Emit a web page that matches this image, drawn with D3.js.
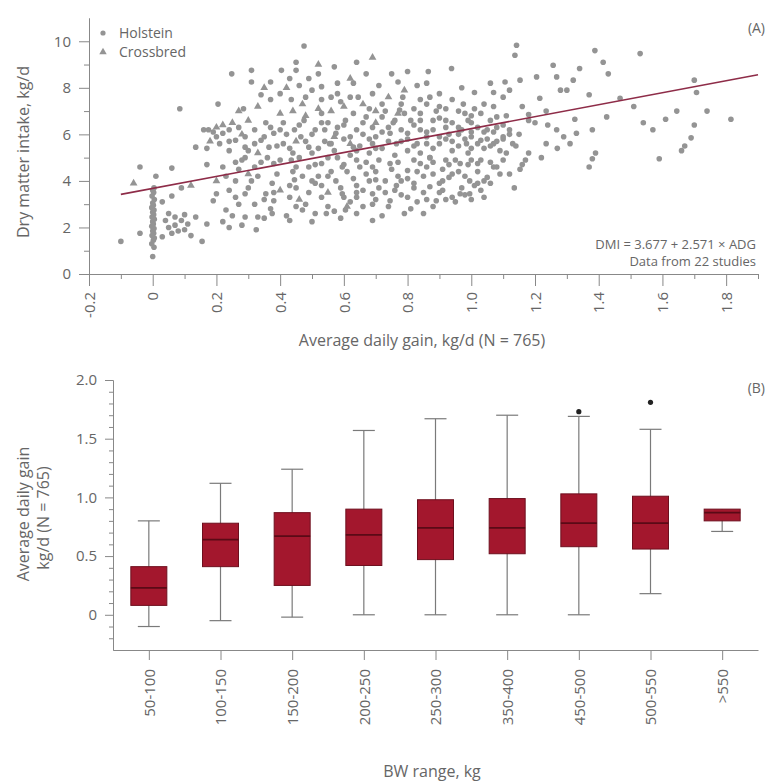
<!DOCTYPE html>
<html>
<head>
<meta charset="utf-8">
<script src="https://d3js.org/d3.v7.min.js"></script>
<style>
  body { margin: 0; background: #fff; }
  svg text { font-family: "Open Sans", "DejaVu Sans", sans-serif; fill: #666; }
  .axis path, .axis line { stroke: #888; }
</style>
</head>
<body>
<svg id="chart" width="766" height="782"></svg>
<script>
// ---- panel A: DMI vs ADG ----
var holstein = [
  [0,0.75],[0.004,1.15],[-0.003,1.3],[0.002,1.45],[0.005,1.55],[-0.002,1.65],[0.003,1.75],[0,1.85],[0.004,1.95],
  [-0.003,2.05],[0.002,2.15],[0,2.25],[0.005,2.35],[-0.002,2.45],[0.003,2.55],[0,2.65],[0.004,2.75],[-0.003,2.85],
  [0.002,2.95],[0,3.05],[0.005,3.2],[-0.002,3.35],[0.003,3.5],[0,3.6],[0.004,3.7],[0.01,4.2],
  [-0.1,1.4],[-0.04,1.75],[-0.04,4.6],[0.06,4.55],[0.085,7.1],[0.03,1.6],[0.04,2.3],[0.05,2.0],[0.06,1.75],
  [0.07,2.1],[0.08,1.85],[0.09,2.3],[0.1,1.9],[0.11,2.15],[0.12,1.65],[0.05,2.6],[0.07,2.45],[0.1,2.55],
  [0.135,2.45],[0.155,1.4],[0.17,2.15],[0.03,3.1],[0.06,3.35],[0.09,3.7],
  [0.475,9.8],[0.248,8.6],[0.31,8.75],[0.31,8.25],[0.37,8.25],[0.404,8.75],[0.45,9.1],[0.45,8.75],[0.43,8.4],
  [0.49,8.4],[0.52,8.6],[0.57,8.9],[0.64,9.1],[0.67,8.6],[0.63,8.2],[0.8,8.7],[0.83,8.1],[0.77,8.25],
  [0.205,7.3],[0.285,7.1],[0.34,7.7],[0.37,7.5],[0.4,7.75],[0.435,7.5],[0.48,7.6],[0.53,8.05],[0.53,7.5],
  [0.58,7.75],[0.59,7.4],[0.645,7.6],[0.69,7.75],[0.72,7.3],[0.785,7.6],[0.84,7.5],
  [0.16,6.2],[0.175,6.2],[0.2,5.9],[0.22,6.05],[0.24,6.2],[0.26,5.75],[0.29,5.9],[0.32,6.2],[0.355,6.5],
  [0.34,5.75],[0.38,6.05],[0.41,6.5],[0.445,6.2],[0.475,6.6],[0.465,5.9],[0.51,6.2],[0.53,6.9],[0.55,6.5],
  [0.575,6.05],[0.605,6.6],[0.64,6.2],[0.67,6.75],[0.69,6.3],[0.72,6.75],[0.755,6.5],[0.775,7.05],[0.81,6.6],
  [0.84,6.9],[0.745,6.05],[0.8,6.05],[0.84,6.2],
  [0.135,5.45],[0.17,5.4],[0.24,5.3],[0.29,5.45],[0.365,5.45],[0.43,5.4],[0.49,5.45],[0.555,5.6],[0.63,5.45],
  [0.69,5.6],[0.765,5.6],[0.83,5.6],
  [0.17,4.7],[0.22,4.6],[0.26,4.8],[0.29,5.0],[0.32,4.6],[0.38,4.75],[0.435,4.9],[0.49,4.6],[0.53,4.75],
  [0.595,4.6],[0.64,4.9],[0.69,4.6],[0.745,4.75],[0.8,4.45],[0.84,4.75],
  [0.26,4.0],[0.31,4.0],[0.375,3.9],[0.445,4.05],[0.51,3.9],[0.575,4.0],[0.64,3.8],[0.7,4.05],[0.765,3.8],[0.82,3.9],
  [0.2,3.45],[0.26,3.3],[0.29,3.45],[0.355,3.45],[0.38,3.15],[0.43,3.3],[0.48,3.0],[0.53,3.3],[0.595,3.45],
  [0.64,3.3],[0.69,3.45],[0.745,3.15],[0.8,3.3],[0.19,3.15],
  [0.23,2.75],[0.25,2.5],[0.29,2.45],[0.33,2.45],[0.375,2.6],[0.43,2.3],[0.47,2.75],[0.5,2.25],[0.545,2.6],
  [0.605,2.75],[0.22,2.25],[0.24,2.0],[0.325,1.9],
  [1.142,9.83],[1.137,9.4],[1.388,9.6],[1.53,9.47],[1.257,8.97],[1.34,8.83],[1.414,9.1],[1.43,8.6],[0.938,8.83],
  [0.865,8.7],[1.205,8.47],[1.268,8.47],[1.32,8.33],[1.28,7.9],[1.3,7.9],[1.153,8.33],[1.106,8.25],[1.01,7.8],
  [1.07,7.8],[1.12,7.9],[1.37,7.7],[1.215,7.55],[1.467,7.55],[1.7,8.33],[1.707,7.8],[1.645,7.0],[1.74,7.0],
  [1.815,6.65],[1.61,6.65],[1.7,6.4],[1.57,6.2],[1.54,6.5],[1.51,7.2],[1.425,6.75],[1.325,6.65],[1.235,7.0],
  [1.18,6.85],[1.18,6.6],[1.268,6.2],[1.29,5.9],[1.33,6.05],[1.38,6.2],[1.235,5.6],[1.31,5.6],[1.69,5.85],
  [1.67,5.5],[1.66,5.3],[1.59,4.95],[1.39,5.2],[1.38,4.95],[1.37,4.6],[1.18,5.2],[1.17,4.9],[1.135,3.7],
  [1.153,4.5],[1.12,6.2],[1.08,6.75],[1.1,5.9],[1.07,7.2],[1.03,6.9],[1.05,6.2],[1.0,6.5],[0.965,6.2],
  [0.92,6.3],[0.88,6.6],[0.9,7.2],[0.94,7.5],[0.975,7.3],[0.87,7.6],[0.9,7.75],[0.86,5.9],[0.9,5.6],
  [0.94,5.3],[0.985,5.6],[1.03,5.75],[1.07,5.6],[1.11,5.2],[0.87,5.0],[0.92,4.9],[0.965,4.75],[1.02,4.75],
  [1.07,4.6],[0.88,4.3],[0.93,4.15],[0.995,4.0],[1.05,4.15],[1.09,4.3],[0.87,3.75],[0.91,3.6],[0.965,3.45],
  [1.02,3.9],[0.89,3.15],[0.94,3.3],[0.995,3.45],
  [0.55,5.0],[0.57,5.3],[0.6,5.8],[0.62,5.1],[0.65,5.5],[0.66,6.0],[0.68,5.2],[0.7,5.9],[0.72,5.4],[0.74,6.3],
  [0.76,5.1],[0.78,5.7],[0.8,5.3],[0.82,6.4],[0.84,5.2],[0.86,6.1],[0.88,5.4],[0.9,6.7],[0.92,5.8],[0.94,6.5],
  [0.96,5.5],[0.98,6.9],[1.0,5.9],[1.02,6.3],[1.04,5.4],[1.06,6.6],[1.08,5.7],[1.1,6.4],[0.58,6.3],[0.63,6.9],
  [0.67,4.3],[0.71,4.9],[0.73,7.0],[0.77,4.2],[0.79,6.9],[0.83,4.4],[0.87,5.0],[0.89,7.0],[0.91,4.5],[0.93,6.0],
  [0.95,4.9],[0.97,6.2],[0.99,5.2],[1.01,7.1],[1.03,4.9],[1.05,5.8],[1.07,6.1],[1.09,5.3],[1.11,6.8],[1.13,5.6],
  [0.52,4.2],[0.54,5.7],[0.56,4.4],[0.59,3.7],[0.61,4.4],[0.64,3.5],[0.66,2.9],[0.69,3.0],[0.71,3.7],[0.74,2.9],
  [0.76,3.6],[0.78,4.0],[0.81,2.8],[0.85,3.5],[0.88,2.9],[0.92,3.2],[0.97,3.7],[1.0,3.2],[1.03,3.6],[1.06,3.9],
  [1.08,4.6],[1.12,4.3],[0.36,5.0],[0.39,4.3],[0.41,5.6],[0.44,4.4],[0.46,5.0],[0.5,5.2],[0.51,4.7],[0.53,6.5],
  [0.23,4.2],[0.27,4.5],[0.3,3.7],[0.33,4.2],[0.35,3.2],[0.37,2.8],[0.42,2.5],[0.45,3.7],[0.47,4.2],[0.49,3.5],
  [0.51,2.6],[0.53,3.8],[0.57,2.7],[0.59,2.4],[0.62,3.1],[0.65,4.6],[0.68,4.0],[0.72,2.5],[0.75,4.5],[0.83,3.1],
  [0.86,4.6],[0.9,3.9],[0.94,4.3],[0.98,4.2],[0.96,6.0],[0.99,6.6],[1.0,6.1],[1.0,4.9],[1.0,5.4],[1.01,3.8],
  [0.42,6.0],[0.44,5.2],[0.46,6.4],[0.48,5.7],[0.5,6.0],[0.52,5.4],[0.54,6.2],[0.56,5.6],[0.58,5.0],[0.6,6.4],
  [0.62,5.9],[0.64,5.3],[0.66,6.5],[0.68,5.8],[0.7,5.4],[0.72,6.1],[0.74,5.7],[0.76,6.6],[0.78,6.2],[0.8,5.8],
  [0.82,5.5],[0.84,6.6],[0.86,5.6],[0.88,6.2],[0.9,5.9],[0.92,6.6],[0.94,5.7],[0.96,6.3],[0.98,5.8],[1.0,6.8],
  [1.02,5.6],[1.04,6.1],[1.06,5.5],[1.08,6.3],[1.1,5.8],[1.12,6.0],[0.45,4.6],[0.5,4.0],[0.55,4.2],[0.6,4.7],
  [0.63,4.1],[0.67,4.8],[0.7,4.4],[0.73,4.0],[0.77,4.8],[0.8,4.1],[0.82,4.9],[0.85,4.2],[0.88,4.8],[0.91,4.0],
  [0.93,4.7],[0.96,4.4],[0.99,4.7],[1.02,4.4],[1.04,4.0],[1.06,4.8],[1.1,4.9],[0.6,3.3],[0.66,3.6],[0.7,3.2],
  [0.73,3.5],[0.78,3.4],[0.82,3.7],[0.86,3.2],[0.9,3.5],[0.95,3.1],[0.98,3.4],[1.04,3.3],[0.3,5.3],[0.32,5.6],
  [0.35,5.9],[0.37,6.3],[0.39,5.5],[0.4,6.2],[0.27,6.3],[0.24,5.7],[0.21,5.6],[0.19,6.1],[0.28,4.9],[0.34,4.8],
  [0.4,4.9],[0.43,3.8],[0.38,3.5],[0.32,3.0],[0.27,3.0],[0.24,3.6],[0.35,2.4],[0.28,2.1],[0.45,2.9],[0.55,2.9],
  [0.96,7.0],[1.04,7.3],[0.92,7.1],[0.86,7.3],[0.82,7.1],[0.78,7.3],[0.68,7.1],[0.62,7.6],[0.56,7.6],[0.5,7.9],
  [0.46,8.1],[0.58,8.2],[0.71,8.1],[0.75,8.6],[0.86,8.2],[0.97,8.0],[1.06,8.2],[1.1,7.6],[1.16,7.2],[1.2,6.5],
  [1.24,6.4],[1.15,6.0],[1.14,5.5],[1.16,4.7],[1.22,5.0],[1.27,5.4],[0.85,2.6],[0.79,2.6],[0.69,2.3],[0.64,2.6]
];
var crossbred = [
  [0.48,6.8],[0.44,7.0],[0.4,6.9],[0.33,7.2],[0.3,6.6],[0.27,7.0],[0.25,6.5],[0.22,6.4],[0.2,6.3],[0.18,5.7],
  [0.35,8.0],[0.42,8.0],[0.47,7.3],[0.52,7.1],[0.56,7.0],[0.6,7.2],[0.66,7.3],[0.7,7.0],[0.74,7.6],[0.79,7.9],
  [0.62,8.4],[0.69,9.3],[0.52,9.0],[0.28,6.0],[0.33,5.2],[0.45,5.7],[0.57,5.9],[0.62,5.6],[0.7,6.5],[0.77,6.9],
  [0.3,4.3],[0.4,3.6],[0.46,3.2],[0.55,3.5],[0.61,2.9],[0.2,4.0],[0.12,3.8],[-0.06,3.9]
];
var regIntercept = 3.677, regSlope = 2.571;
var regRange = [-0.1, 1.9];
var xTicksA = [-0.2, 0, 0.2, 0.4, 0.6, 0.8, 1.0, 1.2, 1.4, 1.6, 1.8];
var xMinorA = [-0.1, 0.1, 0.3, 0.5, 0.7, 0.9, 1.1, 1.3, 1.5, 1.7, 1.9];
var yTicksA = [0, 2, 4, 6, 8, 10];
var yMinorA = [1, 3, 5, 7, 9];

// ---- panel B: ADG box plots by BW range ----
var bwRanges = ["50-100", "100-150", "150-200", "200-250", "250-300", "350-400", "450-500", "500-550", ">550"];
var whiskerLow  = [-0.10, -0.05, -0.02, 0.00, 0.00, 0.00, 0.00, 0.18, 0.71];
var q1          = [ 0.08,  0.41,  0.25, 0.42, 0.47, 0.52, 0.58, 0.56, 0.80];
var medians     = [ 0.23,  0.64,  0.67, 0.68, 0.74, 0.74, 0.78, 0.78, 0.87];
var q3          = [ 0.41,  0.78,  0.87, 0.90, 0.98, 0.99, 1.03, 1.01, 0.90];
var whiskerHigh = [ 0.80,  1.12,  1.24, 1.57, 1.67, 1.70, 1.69, 1.58, 0.90];
var outlierCat  = ["450-500", "500-550"];
var outlierVal  = [1.73, 1.81];
var yTicksB = [0, 0.5, 1.0, 1.5, 2.0];
var yMinorB = [-0.2, -0.1, 0.1, 0.2, 0.3, 0.4, 0.6, 0.7, 0.8, 0.9, 1.1, 1.2, 1.3, 1.4, 1.6, 1.7, 1.8, 1.9];

var svg = d3.select('#chart');
var dotColor = '#949494';

// ================= panel A =================
var xA = d3.scaleLinear().domain([-0.2, 1.9]).range([89, 758]);
var yA = d3.scaleLinear().domain([0, 11]).range([274, 18]);

//minor ticks first
svg.append('g').attr('class', 'axis').attr('transform', 'translate(0,274)')
  .call(d3.axisBottom(xA).tickValues(xMinorA).tickSize(5).tickSizeOuter(0).tickFormat(''));
svg.append('g').attr('class', 'axis').attr('transform', 'translate(89,0)')
  .call(d3.axisLeft(yA).tickValues(yMinorA).tickSize(5).tickSizeOuter(0).tickFormat(''));

var xAxisA = svg.append('g').attr('class', 'axis').attr('transform', 'translate(0,274)')
  .call(d3.axisBottom(xA).tickValues(xTicksA).tickSize(12).tickSizeOuter(0)
    .tickFormat(function(d){ return d === 0 ? '0' : d.toFixed(1); }));
xAxisA.selectAll('text')
  .attr('transform', 'rotate(-90)')
  .attr('x', -18).attr('y', 0).attr('dy', '0.35em')
  .style('text-anchor', 'end')
  .style('font-size', '15px');

var yAxisA = svg.append('g').attr('class', 'axis').attr('transform', 'translate(89,0)')
  .call(d3.axisLeft(yA).tickValues(yTicksA).tickSize(10).tickSizeOuter(0).tickPadding(8));
yAxisA.selectAll('text').style('font-size', '15px');
svg.selectAll('.axis .domain').attr('stroke', '#888');

// points
svg.append('g').selectAll('circle')
  .data(holstein).enter().append('circle')
  .attr('cx', function(d){ return xA(d[0]); })
  .attr('cy', function(d){ return yA(d[1]); })
  .attr('r', 2.8)
  .attr('fill', dotColor);

svg.append('g').selectAll('path')
  .data(crossbred).enter().append('path')
  .attr('d', d3.symbol(d3.symbolTriangle).size(26))
  .attr('transform', function(d){ return 'translate(' + xA(d[0]) + ',' + yA(d[1]) + ')'; })
  .attr('fill', dotColor);

// regression line
svg.append('line')
  .attr('x1', xA(regRange[0])).attr('y1', yA(regIntercept + regSlope * regRange[0]))
  .attr('x2', xA(regRange[1])).attr('y2', yA(regIntercept + regSlope * regRange[1]))
  .attr('stroke', '#8e2c48').attr('stroke-width', 1.6);

// legend
svg.append('circle').attr('cx', 103).attr('cy', 33).attr('r', 2.6).attr('fill', dotColor);
svg.append('path').attr('d', d3.symbol(d3.symbolTriangle).size(24)).attr('transform', 'translate(103,52)').attr('fill', dotColor);
svg.append('text').attr('x', 119).attr('y', 33).attr('dy', '0.35em').style('font-size', '14px').text('Holstein');
svg.append('text').attr('x', 119).attr('y', 52).attr('dy', '0.35em').style('font-size', '14px').text('Crossbred');

svg.append('text').attr('x', 765).attr('y', 28).attr('dy', '0.35em').style('text-anchor', 'end').style('font-size', '14px').text('(A)');
svg.append('text').attr('x', 756).attr('y', 244).attr('dy', '0.35em').style('text-anchor', 'end').style('font-size', '13px')
  .text('DMI = 3.677 + 2.571 × ADG');
svg.append('text').attr('x', 756).attr('y', 261).attr('dy', '0.35em').style('text-anchor', 'end').style('font-size', '13px')
  .text('Data from 22 studies');

svg.append('text').attr('x', 422).attr('y', 340).attr('dy', '0.35em').style('text-anchor', 'middle').style('font-size', '16px')
  .text('Average daily gain, kg/d (N = 765)');
svg.append('text').attr('transform', 'translate(23,152) rotate(-90)').attr('dy', '0.35em').style('text-anchor', 'middle').style('font-size', '16px')
  .text('Dry matter intake, kg/d');

// ================= panel B =================
var xB = d3.scalePoint().domain(bwRanges).range([113, 758]).padding(0.5);
var yB = d3.scaleLinear().domain([-0.3, 2.0]).range([650, 380]);
var boxW = 36, capW = 22;

svg.append('g').attr('class', 'axis').attr('transform', 'translate(113,0)')
  .call(d3.axisLeft(yB).tickValues(yMinorB).tickSize(4).tickSizeOuter(0).tickFormat(''));
var yAxisB = svg.append('g').attr('class', 'axis').attr('transform', 'translate(113,0)')
  .call(d3.axisLeft(yB).tickValues(yTicksB).tickSize(8).tickSizeOuter(0).tickPadding(8)
    .tickFormat(function(d){ return d === 0 ? '0' : d.toFixed(1); }));
yAxisB.selectAll('text').style('font-size', '15px');

var xAxisB = svg.append('g').attr('class', 'axis').attr('transform', 'translate(0,650)')
  .call(d3.axisBottom(xB).tickSize(10).tickSizeOuter(0));
xAxisB.selectAll('text')
  .attr('transform', 'rotate(-90)')
  .attr('x', -19).attr('y', 0).attr('dy', '0.35em')
  .style('text-anchor', 'end')
  .style('font-size', '15px');
svg.selectAll('.axis .domain').attr('stroke', '#888');

var boxes = bwRanges.map(function(c, i){
  return { cat: c, lo: whiskerLow[i], q1: q1[i], med: medians[i], q3: q3[i], hi: whiskerHigh[i] };
});

var bg = svg.append('g').selectAll('g').data(boxes).enter().append('g');
bg.append('line')
  .attr('x1', function(d){ return xB(d.cat); }).attr('x2', function(d){ return xB(d.cat); })
  .attr('y1', function(d){ return yB(d.lo); }).attr('y2', function(d){ return yB(d.hi); })
  .attr('stroke', '#7a7a7a').attr('stroke-width', 1.2);
bg.append('line')
  .attr('x1', function(d){ return xB(d.cat) - capW / 2; }).attr('x2', function(d){ return xB(d.cat) + capW / 2; })
  .attr('y1', function(d){ return yB(d.lo); }).attr('y2', function(d){ return yB(d.lo); })
  .attr('stroke', '#7a7a7a').attr('stroke-width', 1.2);
bg.filter(function(d){ return d.hi > d.q3; }).append('line')
  .attr('x1', function(d){ return xB(d.cat) - capW / 2; }).attr('x2', function(d){ return xB(d.cat) + capW / 2; })
  .attr('y1', function(d){ return yB(d.hi); }).attr('y2', function(d){ return yB(d.hi); })
  .attr('stroke', '#7a7a7a').attr('stroke-width', 1.2);
bg.append('rect')
  .attr('x', function(d){ return xB(d.cat) - boxW / 2; })
  .attr('width', boxW)
  .attr('y', function(d){ return yB(d.q3); })
  .attr('height', function(d){ return yB(d.q1) - yB(d.q3); })
  .attr('fill', '#a3172d').attr('stroke', '#6e0f1e').attr('stroke-width', 1);
bg.append('line')
  .attr('x1', function(d){ return xB(d.cat) - boxW / 2; }).attr('x2', function(d){ return xB(d.cat) + boxW / 2; })
  .attr('y1', function(d){ return yB(d.med); }).attr('y2', function(d){ return yB(d.med); })
  .attr('stroke', '#5a0a16').attr('stroke-width', 1.8);

svg.append('g').selectAll('circle')
  .data(outlierCat).enter().append('circle')
  .attr('cx', function(d){ return xB(d); })
  .attr('cy', function(d, i){ return yB(outlierVal[i]); })
  .attr('r', 2.6).attr('fill', '#222');

svg.append('text').attr('x', 765).attr('y', 388).attr('dy', '0.35em').style('text-anchor', 'end').style('font-size', '14px').text('(B)');
svg.append('text').attr('x', 432).attr('y', 771).attr('dy', '0.35em').style('text-anchor', 'middle').style('font-size', '16px')
  .text('BW range, kg');
svg.append('text').attr('transform', 'translate(23,514) rotate(-90)').attr('dy', '0.35em').style('text-anchor', 'middle').style('font-size', '16px')
  .text('Average daily gain');
svg.append('text').attr('transform', 'translate(43,518) rotate(-90)').attr('dy', '0.35em').style('text-anchor', 'middle').style('font-size', '16px')
  .text('kg/d (N = 765)');
</script>
</body>
</html>
